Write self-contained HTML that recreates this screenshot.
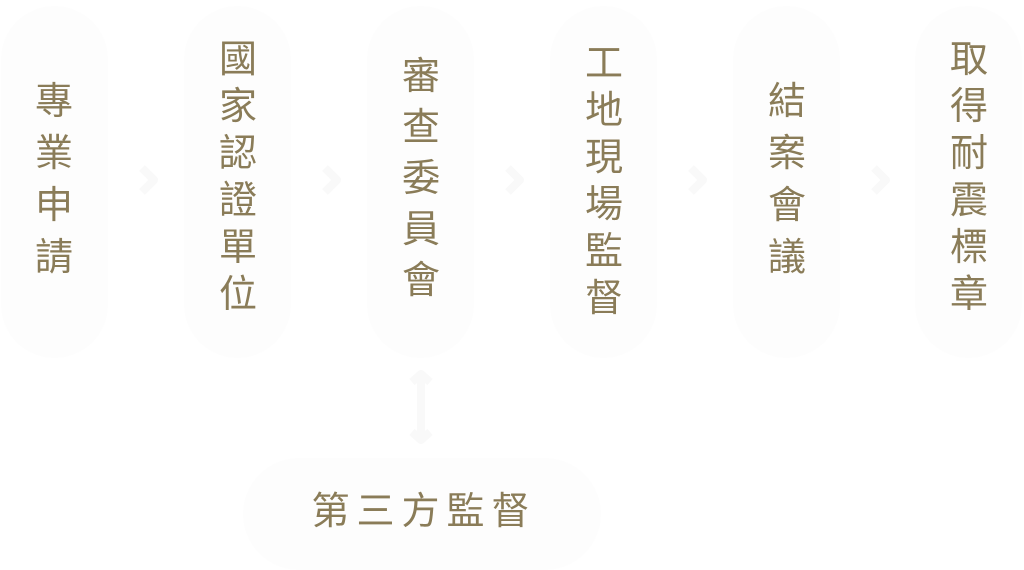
<!DOCTYPE html>
<html><head><meta charset="utf-8"><style>
html,body{margin:0;padding:0;background:#fff;}
body{width:1024px;height:568px;position:relative;overflow:hidden;font-family:"Liberation Sans","Noto Sans CJK TC",sans-serif;}
.pill{position:absolute;background:#fdfdfd;border-radius:56px;}
.col{position:absolute;width:60px;text-align:center;color:#8a7c58;font-size:38px;font-weight:400;}
.bot{position:absolute;color:#8a7c58;font-size:38px;font-weight:400;letter-spacing:7px;left:237px;width:367px;text-align:center;top:490px;line-height:44px;}
</style></head><body>
<div class="pill" style="left:1px;top:6px;width:107px;height:352px"></div>
<div class="pill" style="left:184px;top:6px;width:107px;height:352px"></div>
<div class="pill" style="left:367px;top:6px;width:107px;height:352px"></div>
<div class="pill" style="left:550px;top:6px;width:107px;height:352px"></div>
<div class="pill" style="left:733px;top:6px;width:107px;height:352px"></div>
<div class="pill" style="left:915px;top:6px;width:107px;height:352px"></div>
<div class="pill" style="left:243px;top:458px;width:358px;height:112px;border-radius:56px"></div>
<svg style="position:absolute;left:0;top:0" width="1024" height="568">
<g fill="none" stroke="#f9f9f9" stroke-width="8" stroke-linejoin="round">
<polyline points="142,168 154,180 142,192"/>
<polyline points="325,168 337,180 325,192"/>
<polyline points="508,168 520,180 508,192"/>
<polyline points="691,168 703,180 691,192"/>
<polyline points="874,168 886,180 874,192"/>
<polyline points="412,382 421,374 430,382"/>
<polyline points="412,432 421,440 430,432"/>
<line x1="421" y1="376" x2="421" y2="438"/>
</g></svg>
<div class="col" style="left:24px;top:76px;line-height:52px">專<br>業<br>申<br>請</div>
<div class="col" style="left:208px;top:37px;line-height:47px">國<br>家<br>認<br>證<br>單<br>位</div>
<div class="col" style="left:391px;top:52px;line-height:51px">審<br>查<br>委<br>員<br>會</div>
<div class="col" style="left:574px;top:41px;line-height:47px">工<br>地<br>現<br>場<br>監<br>督</div>
<div class="col" style="left:757px;top:76px;line-height:52px">結<br>案<br>會<br>議</div>
<div class="col" style="left:939px;top:37px;line-height:47px">取<br>得<br>耐<br>震<br>標<br>章</div>
<div class="bot"><span style="margin-left:7px">第三方監督</span></div>
</body></html>
